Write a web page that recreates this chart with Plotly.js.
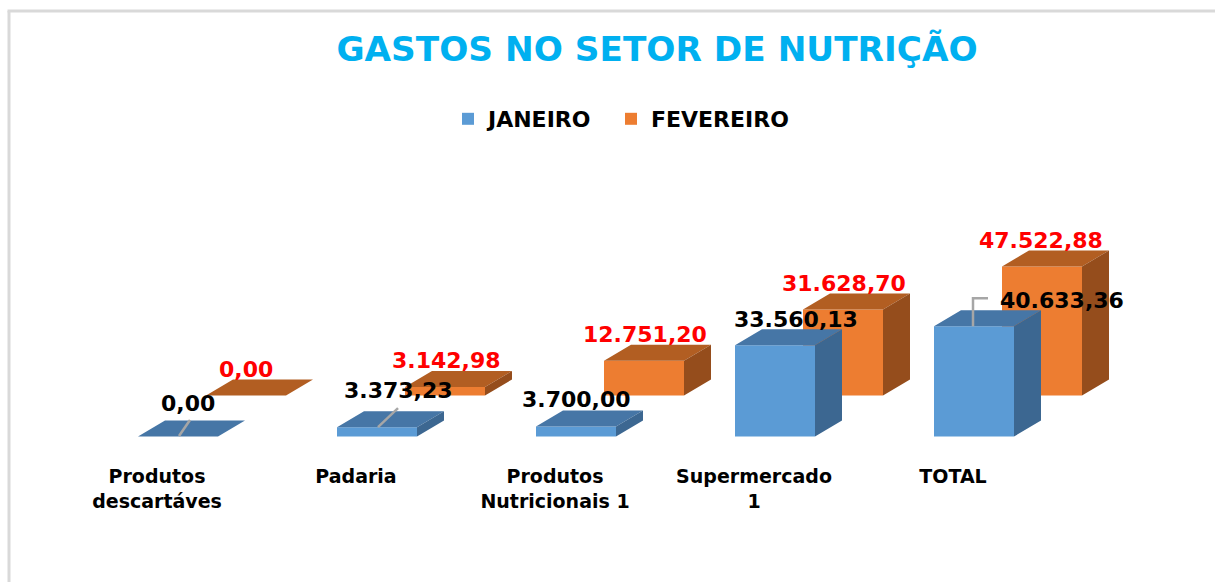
<!DOCTYPE html>
<html><head><meta charset="utf-8">
<script src="https://cdn.plot.ly/plotly-3.0.1.min.js"></script>
<style>html,body{margin:0;padding:0;background:#fff;}#chart{width:1215px;height:582px;}</style>
</head><body><div id="chart"></div>
<script>
// ---------- data ----------
const categories = ['Produtos descartáves', 'Padaria', 'Produtos Nutricionais 1', 'Supermercado 1', 'TOTAL'];
const tickLabels = ['Produtos<br>descartáves', 'Padaria', 'Produtos<br>Nutricionais 1', 'Supermercado<br>1', 'TOTAL'];
const janeiro   = [0, 3373.23, 3700.00, 33560.13, 40633.36];
const fevereiro = [0, 3142.98, 12751.20, 31628.70, 47522.88];
const seriesNames = ['JANEIRO', 'FEVEREIRO'];

// ---------- geometry (pixels) ----------
const W = 1215, H = 582, B = 119, PH = H - B;
const X0PX = 178, STEP = 199;          // pixel of first category centre, category spacing
const ZERO_PX = 436.5, K = 0.002716;   // pixel of value 0, px per unit
const BAR_PX = 80, BACK_DX = 68, BACK_DY = 41, DEP_DX = 27, DEP_DY = 16, TICK_SHIFT = 21;
const xu = px => px / STEP;
const yu = px => px / K;
const xRange = [-X0PX / STEP, (W - X0PX) / STEP];
const yRange = [-(PH - ZERO_PX) / K, ZERO_PX / K];
const idx = categories.map((_, i) => i);

// label offsets in px (right, down) relative to the front-top centre of each bar
const janLabelShift = [[10, -33.5], [21, -37], [0, -26.5], [21, -25.4], [88, -26]];
const febLabelShift = [[0, -26], [1, -26], [1, -26], [1, -26], [-1, -26]];
// leader lines (px, right/up) relative to the front-top centre of January bars
const janLeaders = {0: [[12, 16.5], [1, 0.5]], 1: [[21, 19.3], [1, 0.3]], 4: [[-1, 0], [-1, 28], [14, 28]]};

const series = [
  {name: seriesNames[0], vals: janeiro, ox: 0, oy: 0, front: '#5B9BD5', top: '#4676A6', side: '#3C6791', lbl: '#000000', shift: janLabelShift, legend: 'legend'},
  {name: seriesNames[1], vals: fevereiro, ox: xu(BACK_DX), oy: yu(BACK_DY), front: '#ED7D31', top: '#B25E22', side: '#954D1C', lbl: '#FF0000', shift: febLabelShift, legend: 'legend2'}
];

const fmt = v => {
  const [int, dec] = v.toFixed(2).split('.');
  return int.replace(/\B(?=(\d{3})+(?!\d))/g, '.') + ',' + dec;
};

const bw = xu(BAR_PX), dx = xu(DEP_DX), dy = yu(DEP_DY);
function faces(s) {
  const tx = [], ty = [], sx = [], sy = [];
  s.vals.forEach((v, i) => {
    const xl = i + s.ox - bw / 2, xr = xl + bw, b = s.oy, t = s.oy + v;
    tx.push(xl, xl + dx, xr + dx, xr, xl, null);
    ty.push(t, t + dy, t + dy, t, t, null);
    sx.push(xr, xr + dx, xr + dx, xr, xr, null);
    sy.push(b, b + dy, t + dy, t, b, null);
  });
  return {tx, ty, sx, sy};
}

const bars = [series[1], series[0]].map(s => ({
  type: 'bar', name: s.name, legend: s.legend,
  x: idx.map(i => i + s.ox), y: s.vals, base: s.vals.map(() => s.oy), width: bw,
  marker: {color: s.front, line: {width: 0}}, hoverinfo: 'skip'
}));
const polys = [];
[series[1], series[0]].forEach(s => {
  const f = faces(s);
  polys.push({type: 'scatter', mode: 'lines', x: f.tx, y: f.ty, fill: 'toself', fillcolor: s.top, line: {width: 0, color: s.top}, showlegend: false, hoverinfo: 'skip'});
  polys.push({type: 'scatter', mode: 'lines', x: f.sx, y: f.sy, fill: 'toself', fillcolor: s.side, line: {width: 0, color: s.side}, showlegend: false, hoverinfo: 'skip'});
});

const annotations = [];
series.forEach(s => {
  s.vals.forEach((v, i) => {
    annotations.push({
      x: i + s.ox, y: s.oy + v, xref: 'x', yref: 'y', text: fmt(v), showarrow: false,
      xanchor: 'center', yanchor: 'middle', xshift: s.shift[i][0], yshift: -s.shift[i][1],
      font: {family: 'DejaVu Sans', size: 22, color: s.lbl, weight: 'bold'}
    });
  });
});

const shapes = [];
Object.keys(janLeaders).forEach(k => {
  const i = +k, pts = janLeaders[k];
  shapes.push({
    type: 'path', xref: 'x', yref: 'y', xsizemode: 'pixel', ysizemode: 'pixel',
    xanchor: i, yanchor: janeiro[i],
    path: pts.map((p, j) => (j ? 'L' : 'M') + p[0] + ',' + p[1]).join(''),
    line: {color: '#A6A6A6', width: 2.5}
  });
});
// chart frame
shapes.push({type: 'line', xref: 'paper', yref: 'paper', x0: 9 / W, x1: 9 / W, y0: 1 - 11 / PH, y1: 1 - 600 / PH, line: {color: '#D9D9D9', width: 3}});
shapes.push({type: 'line', xref: 'paper', yref: 'paper', x0: 7.5 / W, x1: 1230 / W, y0: 1 - 11 / PH, y1: 1 - 11 / PH, line: {color: '#D9D9D9', width: 3}});

const legendBase = {orientation: 'h', xanchor: 'left', y: 1 - 119 / PH, yanchor: 'middle', bgcolor: 'rgba(0,0,0,0)',
                    font: {family: 'DejaVu Sans', size: 22, color: '#000000', weight: 'bold'}};

const layout = {
  width: W, height: H, margin: {l: 0, r: 0, t: 0, b: B},
  paper_bgcolor: '#FFFFFF', plot_bgcolor: '#FFFFFF',
  barmode: 'overlay', hovermode: false,
  title: {text: 'GASTOS NO SETOR DE NUTRIÇÃO', xref: 'container', yref: 'container', x: 657 / W, xanchor: 'center', y: 1 - 49 / H, yanchor: 'middle',
          font: {family: 'DejaVu Sans', size: 34.3, color: '#00B0F0', weight: 'bold'}},
  legend: Object.assign({}, legendBase, {x: 448 / W}),
  legend2: Object.assign({}, legendBase, {x: 611 / W}),
  xaxis: {range: xRange, tickmode: 'array', tickvals: idx.map(i => i - xu(TICK_SHIFT)), ticktext: tickLabels,
          showgrid: false, zeroline: false, showline: false, ticks: '', automargin: false, fixedrange: true,
          tickfont: {family: 'DejaVu Sans', size: 19, color: '#000000', weight: 'bold'}},
  yaxis: {range: yRange, visible: false, fixedrange: true},
  annotations: annotations, shapes: shapes
};

Plotly.newPlot('chart', bars.concat(polys), layout, {displayModeBar: false, staticPlot: true});
</script>
</body></html>
